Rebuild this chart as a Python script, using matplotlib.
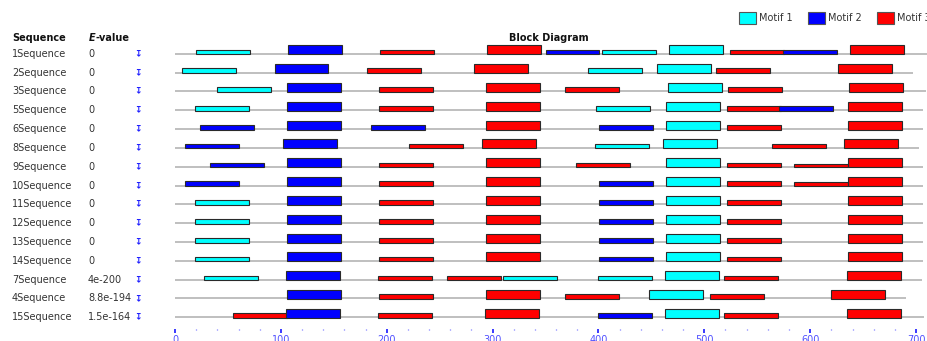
#!/usr/bin/python3
# MEME style block diagram: motif sites found along each sequence, with the combined E-value
import matplotlib
matplotlib.use('Agg')
import matplotlib.pyplot as plt
from matplotlib.patches import Rectangle
from matplotlib.transforms import blended_transform_factory

matplotlib.rcParams.update({'font.size': 7, 'font.family': 'DejaVu Sans'})

seq_names = ['1Sequence', '2Sequence', '3Sequence', '5Sequence', '6Sequence', '8Sequence',
             '9Sequence', '10Sequence', '11Sequence', '12Sequence', '13Sequence', '14Sequence',
             '7Sequence', '4Sequence', '15Sequence']
evalues = ['0', '0', '0', '0', '0', '0', '0', '0', '0', '0', '0', '0',
           '4e-200', '8.8e-194', '1.5e-164']
seq_lengths = [712, 697, 709, 707, 707, 703, 707, 707, 707, 707, 707, 707, 706, 691, 708]

motif_names = ['Motif 1', 'Motif 2', 'Motif 3']
motif_colors = ['#00FFFF', '#0000FF', '#FF0000']
motif_width = 51

# sites per sequence: (motif number, start, relative block height ~ site significance)
hits = [
    [(1, 20, 0.52), (2, 107, 1.0), (3, 194, 0.52), (3, 295, 1.0), (2, 350, 0.52), (1, 403, 0.52),
     (1, 467, 1.0), (3, 524, 0.52), (2, 574, 0.52), (3, 638, 1.0)],
    [(1, 7, 0.52), (2, 94, 1.0), (3, 181, 0.52), (3, 282, 1.0), (1, 390, 0.52), (1, 455, 1.0),
     (3, 511, 0.52), (3, 626, 1.0)],
    [(1, 40, 0.52), (2, 106, 1.0), (3, 193, 0.52), (3, 294, 1.0), (3, 368, 0.52), (1, 466, 1.0),
     (3, 522, 0.52), (3, 637, 1.0)],
    [(1, 19, 0.52), (2, 106, 1.0), (3, 193, 0.52), (3, 294, 1.0), (1, 398, 0.52), (1, 464, 1.0),
     (3, 521, 0.52), (2, 571, 0.52), (3, 636, 1.0)],
    [(2, 24, 0.52), (2, 106, 1.0), (2, 185, 0.52), (3, 294, 1.0), (2, 401, 0.52), (1, 464, 1.0),
     (3, 521, 0.52), (3, 636, 1.0)],
    [(2, 9, 0.52), (2, 102, 1.0), (3, 221, 0.52), (3, 290, 1.0), (1, 397, 0.52), (1, 461, 1.0),
     (3, 564, 0.52), (3, 632, 1.0)],
    [(2, 33, 0.52), (2, 106, 1.0), (3, 193, 0.52), (3, 294, 1.0), (3, 379, 0.52), (1, 464, 1.0),
     (3, 521, 0.52), (3, 585, 0.4), (3, 636, 1.0)],
    [(2, 9, 0.52), (2, 106, 1.0), (3, 193, 0.52), (3, 294, 1.0), (2, 401, 0.52), (1, 464, 1.0),
     (3, 521, 0.52), (3, 585, 0.4), (3, 636, 1.0)],
    [(1, 19, 0.52), (2, 106, 1.0), (3, 193, 0.52), (3, 294, 1.0), (2, 401, 0.52), (1, 464, 1.0),
     (3, 521, 0.52), (3, 636, 1.0)],
    [(1, 19, 0.52), (2, 106, 1.0), (3, 193, 0.52), (3, 294, 1.0), (2, 401, 0.52), (1, 464, 1.0),
     (3, 521, 0.52), (3, 636, 1.0)],
    [(1, 19, 0.52), (2, 106, 1.0), (3, 193, 0.52), (3, 294, 1.0), (2, 401, 0.52), (1, 464, 1.0),
     (3, 521, 0.52), (3, 636, 1.0)],
    [(1, 19, 0.52), (2, 106, 1.0), (3, 193, 0.52), (3, 294, 1.0), (2, 401, 0.52), (1, 464, 1.0),
     (3, 521, 0.52), (3, 636, 1.0)],
    [(1, 27, 0.52), (2, 105, 1.0), (3, 192, 0.52), (3, 257, 0.52), (1, 310, 0.52), (1, 400, 0.52),
     (1, 463, 1.0), (3, 519, 0.52), (3, 635, 1.0)],
    [(2, 106, 1.0), (3, 193, 0.52), (3, 294, 1.0), (3, 368, 0.52), (1, 448, 1.0), (3, 505, 0.52),
     (3, 620, 1.0)],
    [(3, 55, 0.52), (2, 105, 1.0), (3, 192, 0.52), (3, 293, 1.0), (2, 400, 0.52), (1, 463, 1.0),
     (3, 519, 0.52), (3, 635, 1.0)],
]

W, H = 927, 341          # figure size in pixels
X0, PX_PER_POS = 175, 1.0586   # where position 0 sits and the scale of the diagram
ROW0, ROW_STEP = 53.7, 18.83   # pixel row of the first sequence line and row spacing
AX_TOP, AX_BOT = 40, 329
BLOCK_H = 0.48           # tallest block, in row units


def blockdiagram():
    fig = plt.figure(figsize=(W / 100, H / 100), dpi=100)
    ax = fig.add_axes([X0 / W, 1 - AX_BOT / H, 1 - X0 / W, (AX_BOT - AX_TOP) / H])
    ax.set_xlim(0, (W - X0) / PX_PER_POS)
    ax.set_ylim((AX_BOT - ROW0) / ROW_STEP, (AX_TOP - ROW0) / ROW_STEP)
    for s in ax.spines.values():
        s.set_visible(False)

    rows = list(range(len(seq_names)))
    ax.hlines(rows, 0, seq_lengths, color='#b4b4b4', lw=1.2, zorder=1)

    for r, sites in enumerate(hits):
        for motif, start, rel in sites:
            h = BLOCK_H * rel
            ax.bar(start, h, width=motif_width, bottom=r + 0.03 - h, align='edge',
                   color=motif_colors[motif - 1], edgecolor='#2a2a2a', linewidth=0.8, zorder=2)

    # position scale along the bottom
    ax.set_yticks([])
    ax.set_xticks(range(0, 701, 100))
    ax.set_xticks(range(0, 701, 20), minor=True)
    ax.tick_params(axis='x', which='major', direction='out', length=3.2, width=1.4,
                   color='#3a3aff', labelcolor='#5050ff', labelsize=7, pad=1.2)
    ax.tick_params(axis='x', which='minor', direction='out', length=1.0, width=0.9, color='#6a6aff')

    # sequence names, E-values and the little strand icons, one per row
    tr = blended_transform_factory(fig.transFigure, ax.transData)
    for r in rows:
        ax.text(12 / W, r, seq_names[r], transform=tr, va='center', ha='left', color='#333333')
        ax.text(88 / W, r, evalues[r], transform=tr, va='center', ha='left', color='#333333')
        ax.text(138 / W, r, '\u21a7', transform=tr, va='center', ha='center', color='#2020ff',
                fontsize=6.5, fontweight='bold')

    hy = 1 - 38 / H
    fig.text(12 / W, hy, 'Sequence', fontweight='bold', va='center', color='#111111')
    fig.text(89 / W, hy, 'E', fontweight='bold', fontstyle='italic', va='center', color='#111111')
    fig.text(95.5 / W, hy, '-value', fontweight='bold', va='center', color='#111111')
    fig.text(549 / W, hy, 'Block Diagram', fontweight='bold', va='center', ha='center', color='#111111')

    # legend boxes in the top right corner
    legend_x = [739, 808, 877]
    for lx, name, col in zip(legend_x, motif_names, motif_colors):
        fig.patches.append(Rectangle((lx / W, 1 - 24 / H), 17 / W, 12 / H, transform=fig.transFigure,
                                     facecolor=col, edgecolor='#555555', linewidth=0.8))
        fig.text((lx + 20) / W, 1 - 18 / H, name, va='center', ha='left', color='#333333')

    plt.savefig('out.png', dpi=100)


if __name__ == '__main__':
    blockdiagram()
